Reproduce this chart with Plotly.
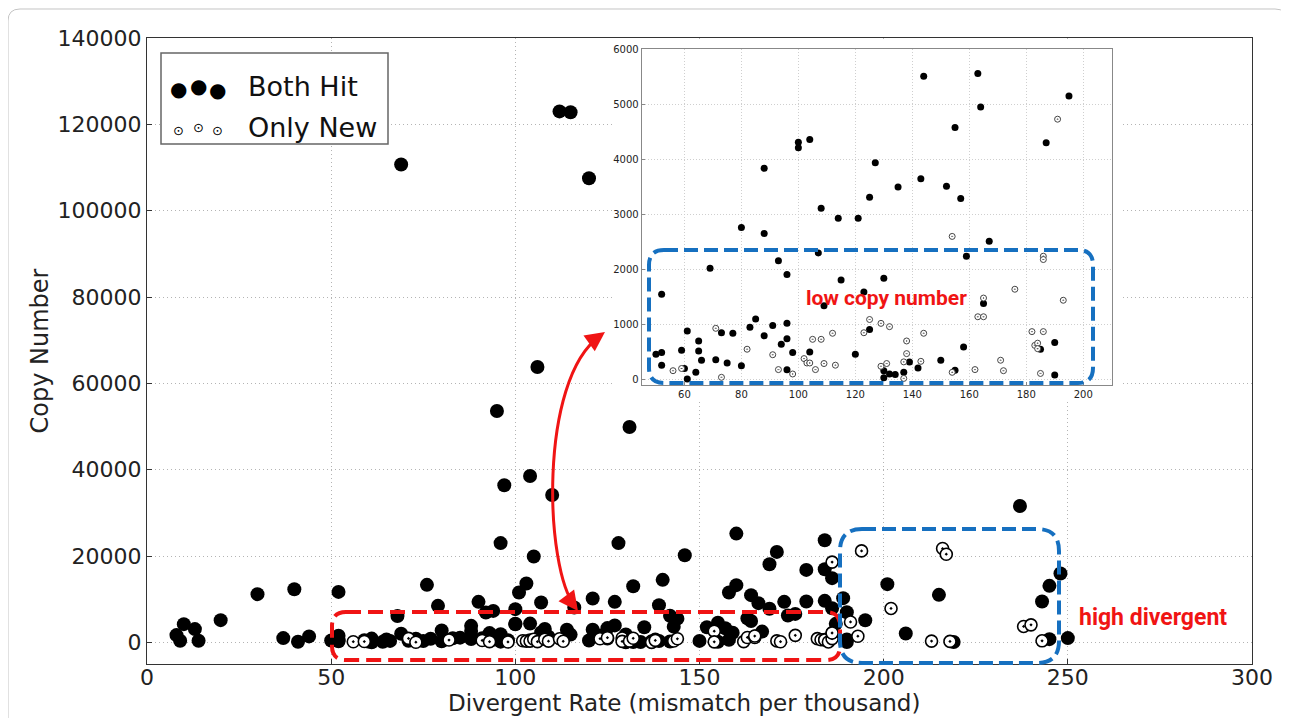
import plotly.graph_objects as go

# ---------------- data ----------------
# Low-copy region (shown both in the main plot and in the inset)
low_both_x = [50, 52, 52, 52, 59, 60, 61, 61, 64, 65, 65, 66, 69, 71, 73, 75, 77, 80, 80, 83, 85,
              88, 88, 88, 91, 93, 94, 96, 96, 96, 96, 98, 100, 100, 104, 104, 107, 108, 109, 114,
              115, 120, 121, 123, 125, 125, 127, 130, 130, 130, 132, 134, 135, 137, 139, 142, 143,
              144, 150, 152, 155, 155, 157, 158, 159, 163, 164, 165, 167, 185, 187, 190, 190, 195]
low_both_y = [460, 490, 1550, 260, 530, 200, 880, 10, 130, 700, 520, 350, 2020, 360, 850, 300, 840,
              250, 2760, 950, 1100, 3840, 2655, 794, 980, 2160, 640, 1910, 1024, 740, 176, 490, 4310,
              4210, 4360, 500, 2300, 3110, 1340, 2930, 1810, 460, 2930, 1590, 3310, 910, 3940, 1840,
              160, 30, 100, 90, 3500, 130, 320, 210, 3650, 5510, 350, 3510, 4580, 170, 3290, 590,
              2240, 5560, 4950, 1380, 2510, 550, 4300, 670, 80, 5150]

low_new_x = [56, 59, 71, 73, 82, 91, 93, 98, 102, 103, 104, 105, 106, 108, 109, 112, 113, 123, 125,
             129, 129, 131, 132, 137, 137, 138, 138, 143, 144, 154, 154, 162, 163, 165, 165, 171,
             172, 176, 182, 183, 184, 184, 185, 186, 186, 186, 191, 193]
low_new_y = [160, 200, 930, 40, 550, 450, 180, 100, 380, 300, 300, 730, 180, 730, 290, 840, 260, 850,
             1090, 1020, 240, 290, 960, 320, 20, 700, 470, 330, 840, 2600, 130, 180, 1140, 1140,
             1480, 350, 160, 1640, 870, 620, 660, 560, 110, 870, 2240, 2180, 4730, 1440]

# Points only visible in the main plot
high_both_x = [8, 9, 10, 13, 14, 20, 30, 37, 40, 41, 44, 52, 68, 69, 76, 79, 90, 92, 94, 95, 96, 97,
               100, 101, 103, 104, 105, 106, 107, 110, 112, 115, 116, 120, 121, 127, 128, 131, 132,
               139, 140, 142, 146, 158, 160, 160, 164, 166, 169, 169, 171, 173, 174, 176, 179, 179,
               184, 184, 184, 186, 186, 189, 190, 201, 206, 215, 219, 237, 243, 245, 245, 248, 250]
high_both_y = [1690, 370, 4230, 3080, 370, 5160, 11180, 1000, 12330, 140, 1390, 11700, 6100, 110700,
               13330, 8470, 9400, 6940, 7300, 53600, 23000, 36400, 7700, 11570, 13650, 38550, 19900,
               63800, 9260, 34150, 123000, 122800, 8100, 107500, 10180, 9400, 23000, 49900, 13000,
               8630, 14490, 6160, 20200, 11570, 25200, 13260, 10950, 9090, 18120, 7800, 20970, 9400,
               6250, 6600, 16800, 9490, 23670, 16960, 9630, 14880, 7900, 10250, 7000, 13490, 2080,
               11020, 100, 31600, 9490, 13100, 760, 15960, 1000]

high_new_x = [186, 194, 202, 213, 216, 217, 218, 238, 240, 243]
high_new_y = [18600, 21200, 7870, 300, 21750, 20430, 230, 3700, 4070, 370]

series_names = ["Both Hit", "Only New"]
x_title = "Divergent Rate (mismatch per thousand)"
y_title = "Copy Number"

# ---------------- geometry helpers (decorations only) ----------------
# page has an 8px body margin, so the figure is 8px smaller than the window
W, H = 1281, 710
ML, MR, MT, MB = 139, 37, 30, 54
PW, PH = W - ML - MR, H - MT - MB
PAGE_L, PAGE_B = 147, 664   # plot-area left / bottom in page pixels


def PX(px):
    return (px - PAGE_L) / PW


def PY(py):
    return (PAGE_B - py) / PH


def pt(px, py):
    return f"{PX(px):.5f},{PY(py):.5f}"


def rrect(x0, y0, x1, y1, r):
    return (f"M {pt(x0 + r, y0)} L {pt(x1 - r, y0)} Q {pt(x1, y0)} {pt(x1, y0 + r)} "
            f"L {pt(x1, y1 - r)} Q {pt(x1, y1)} {pt(x1 - r, y1)} L {pt(x0 + r, y1)} "
            f"Q {pt(x0, y1)} {pt(x0, y1 - r)} L {pt(x0, y0 + r)} Q {pt(x0, y0)} {pt(x0 + r, y0)} Z")


FONT = "DejaVu Sans"
fig = go.Figure()

# main plot
fig.add_trace(go.Scatter(x=low_both_x + high_both_x, y=low_both_y + high_both_y, mode="markers",
                         name=series_names[0], xaxis="x", yaxis="y",
                         marker=dict(size=14, color="black", line=dict(width=0))))
fig.add_trace(go.Scatter(x=low_new_x + high_new_x, y=low_new_y + high_new_y, mode="markers",
                         name=series_names[1], xaxis="x", yaxis="y",
                         marker=dict(symbol="circle-dot", size=12, color="white",
                                     line=dict(color="black", width=1.6))))
# white backdrop subplot for the inset
fig.add_trace(go.Scatter(x=[], y=[], xaxis="x2", yaxis="y2", showlegend=False, hoverinfo="skip"))
# inset
fig.add_trace(go.Scatter(x=low_both_x, y=low_both_y, mode="markers", name=series_names[0],
                         xaxis="x3", yaxis="y3", showlegend=False,
                         marker=dict(size=7, color="black", line=dict(width=0))))
fig.add_trace(go.Scatter(x=low_new_x, y=low_new_y, mode="markers", name=series_names[1],
                         xaxis="x3", yaxis="y3", showlegend=False,
                         marker=dict(symbol="circle-dot", size=6, color="white",
                                     line=dict(color="#444", width=1))))

grid = dict(showgrid=True, gridcolor="#b4b4b4", griddash="1px,3px", gridwidth=1, zeroline=False)
frame = dict(showline=True, mirror=True, linecolor="#333", linewidth=1.2)
igrid = dict(showgrid=True, gridcolor="#cfcfcf", griddash="1px,2px", gridwidth=1, zeroline=False)

fig.update_layout(
    width=W, height=H, margin=dict(l=ML, r=MR, t=MT, b=MB, autoexpand=False),
    paper_bgcolor="white", plot_bgcolor="white", showlegend=False,
    font=dict(family=FONT, color="#222"),
    xaxis=dict(domain=[0, 1], range=[0, 300], dtick=50, tick0=0, ticks="inside", ticklen=5,
               tickcolor="#333", tickfont=dict(size=22), anchor="y", ticklabelstandoff=-7,
               **grid, **frame),
    yaxis=dict(domain=[0, 1], range=[-5000, 140000], dtick=20000, tick0=0, tickformat="d",
               ticks="inside", ticklen=5, tickcolor="#333", tickfont=dict(size=22), anchor="x",
               title=dict(text=y_title, font=dict(size=24), standoff=2), **grid, **frame),
    xaxis2=dict(domain=[PX(613), PX(1120)], range=[0, 1], visible=False, anchor="y2"),
    yaxis2=dict(domain=[PY(402), PY(39.5)], range=[0, 1], visible=False, anchor="x2"),
    xaxis3=dict(domain=[PX(641.7), PX(1111.7)], range=[45, 210], dtick=20, tick0=0,
                ticks="inside", ticklen=3, tickcolor="#888", tickfont=dict(size=10, color="#222"),
                anchor="y3", showline=True, mirror=True, linecolor="#888", linewidth=1, **igrid),
    yaxis3=dict(domain=[PY(385), PY(49.3)], range=[-100, 6000], dtick=1000, tick0=0,
                tickformat="d", ticks="inside", ticklen=3, tickcolor="#888",
                tickfont=dict(size=10, color="#222"), anchor="x3", showline=True, mirror=True,
                linecolor="#888", linewidth=1, **igrid),
)

shapes = []
# outer figure frame
shapes.append(dict(type="path", xref="paper", yref="paper", path=rrect(8, 9, 1287, 740, 12),
                   line=dict(color="#c4c4c4", width=1)))
# red low-copy box (main)
shapes.append(dict(type="path", xref="paper", yref="paper", path=rrect(332, 612, 840, 660, 14),
                   line=dict(color="#f01414", width=4, dash="15px,7px")))
# blue high-divergent box (main)
shapes.append(dict(type="path", xref="paper", yref="paper", path=rrect(840, 529, 1059, 663, 22),
                   line=dict(color="#1670c0", width=4, dash="14px,6px")))
# blue box (inset)
shapes.append(dict(type="path", xref="paper", yref="paper", path=rrect(649, 250, 1093, 383, 15),
                   line=dict(color="#1670c0", width=4, dash="14px,6px")))
# red curved arrow
shapes.append(dict(type="path", xref="paper", yref="paper",
                   path=f"M {pt(575, 606)} C {pt(545, 570)} {pt(538, 380)} {pt(600, 336)}",
                   line=dict(color="#f01414", width=3)))
# legend box
shapes.append(dict(type="rect", xref="paper", yref="paper", x0=PX(161), x1=PX(388),
                   y0=PY(144), y1=PY(53), fillcolor="white", line=dict(color="#666", width=1.5)))
fig.update_layout(shapes=shapes)

ann = []
# x-axis title (placed as in the reference, slightly left of centre)
ann.append(dict(x=PX(684), y=PY(703), xref="paper", yref="paper", text=x_title,
                xanchor="center", yanchor="middle", showarrow=False,
                font=dict(family=FONT, size=23, color="#222")))
# arrow heads
ann.append(dict(x=PX(605), y=PY(332), xref="paper", yref="paper", text="", showarrow=True,
                ax=-14, ay=10, arrowhead=2, arrowsize=1.3, arrowwidth=3, arrowcolor="#f01414"))
ann.append(dict(x=PX(578), y=PY(611), xref="paper", yref="paper", text="", showarrow=True,
                ax=-9, ay=-12, arrowhead=2, arrowsize=1.3, arrowwidth=3, arrowcolor="#f01414"))
# region labels
ann.append(dict(x=PX(886), y=PY(298), xref="paper", yref="paper", text="<b>low copy number</b>",
                xanchor="center", yanchor="middle", showarrow=False,
                font=dict(family="Roboto", size=21, color="#f01414")))
ann.append(dict(x=PX(1153), y=PY(617), xref="paper", yref="paper", text="<b>high divergent</b>",
                xanchor="center", yanchor="middle", showarrow=False,
                font=dict(family="Roboto", size=23, color="#f01414")))
# legend content
for cx, cy in [(178, 89), (198, 86), (217, 90)]:
    ann.append(dict(x=PX(cx), y=PY(cy), xref="paper", yref="paper", text="●", showarrow=False,
                    xanchor="center", yanchor="middle",
                    font=dict(family=FONT, size=20, color="black")))
for cx, cy in [(178, 130), (198, 127), (217, 130)]:
    ann.append(dict(x=PX(cx), y=PY(cy), xref="paper", yref="paper", text="⊙", showarrow=False,
                    xanchor="center", yanchor="middle",
                    font=dict(family=FONT, size=13, color="black")))
ann.append(dict(x=PX(246), y=PY(87), xref="paper", yref="paper", text=series_names[0],
                xanchor="left", yanchor="middle", showarrow=False,
                font=dict(family=FONT, size=27, color="#111")))
ann.append(dict(x=PX(246), y=PY(127), xref="paper", yref="paper", text=series_names[1],
                xanchor="left", yanchor="middle", showarrow=False,
                font=dict(family=FONT, size=27, color="#111")))
fig.update_layout(annotations=ann)

fig.write_html("out.html")
